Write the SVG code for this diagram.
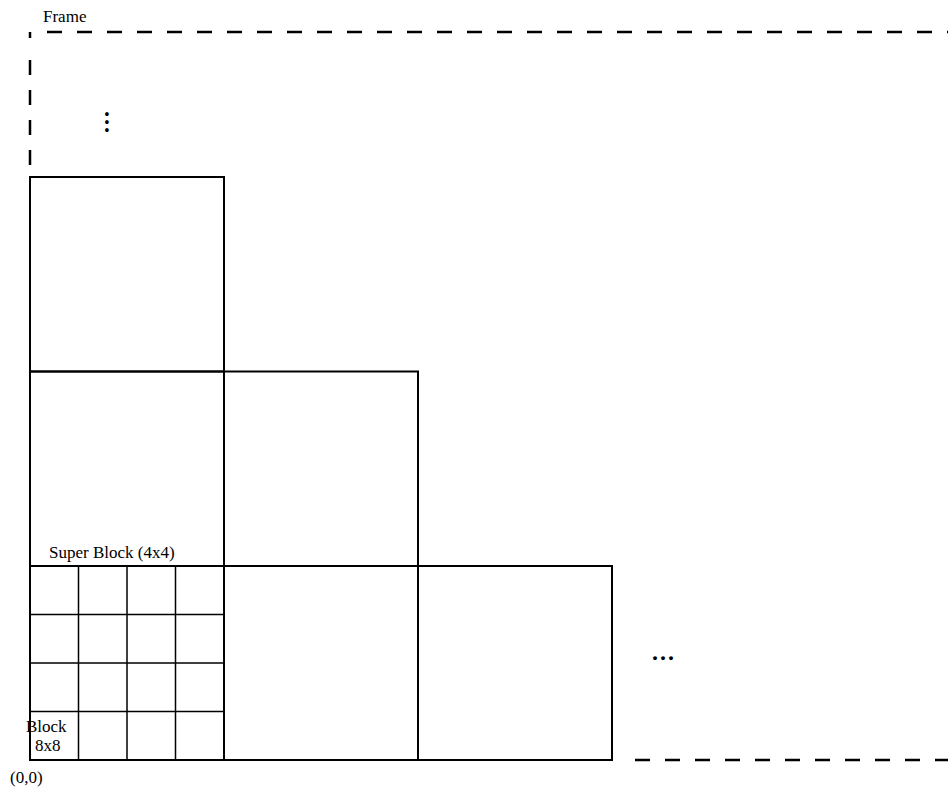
<svg xmlns="http://www.w3.org/2000/svg" width="948" height="790" viewBox="0 0 948 790">
<style>
.lbl{font-family:"Liberation Serif","Times New Roman",serif;font-size:17px;fill:#000}
.dots{font-family:"Liberation Serif","Times New Roman",serif;font-size:24px;font-weight:bold;fill:#000;letter-spacing:2px}
.box{fill:none;stroke:#000;stroke-width:2}
.cell{fill:none;stroke:#000;stroke-width:1.5}
.dash{fill:none;stroke:#000;stroke-width:2.5;stroke-dasharray:15 15}
</style>
<rect width="948" height="790" fill="#fff"/>
<g id="frame">
<path class="dash" d="M47,32 H948"/>
<path class="dash" d="M30,60 V170"/>
<path d="M30,32 V38" stroke="#000" stroke-width="2.5"/>
<path class="dash" d="M635,760 H948"/>
<text class="lbl" x="43" y="22">Frame</text>
</g>
<g id="superblock-row3-col1">
<path class="cell" d="M78.5,566 V760 M127,566 V760 M175.5,566 V760 M30,614.5 H224 M30,663 H224 M30,711.5 H224"/>
<rect class="box" x="30" y="566" width="194" height="194"/>
<text class="lbl" x="49" y="558">Super Block (4x4)</text>
<text class="lbl" x="26" y="732">Block</text>
<text class="lbl" x="35" y="751">8x8</text>
</g>
<g id="superblock-row3-col2"><rect class="box" x="224" y="566" width="194" height="194"/></g>
<g id="superblock-row3-col3"><rect class="box" x="418" y="566" width="194" height="194"/></g>
<g id="superblock-row2-col1"><rect class="box" x="30" y="371.5" width="194" height="194.5"/></g>
<g id="superblock-row2-col2"><rect class="box" x="224" y="371.5" width="194" height="194.5"/></g>
<g id="superblock-row1-col1"><rect class="box" x="30" y="177" width="194" height="194.5"/></g>
<g id="labels">
<text class="lbl" x="10" y="783">(0,0)</text>
<text class="dots" x="652" y="660">...</text>
<text class="dots" transform="translate(105,111) rotate(90)">...</text>
</g>
<g id="connectors"></g>
</svg>
